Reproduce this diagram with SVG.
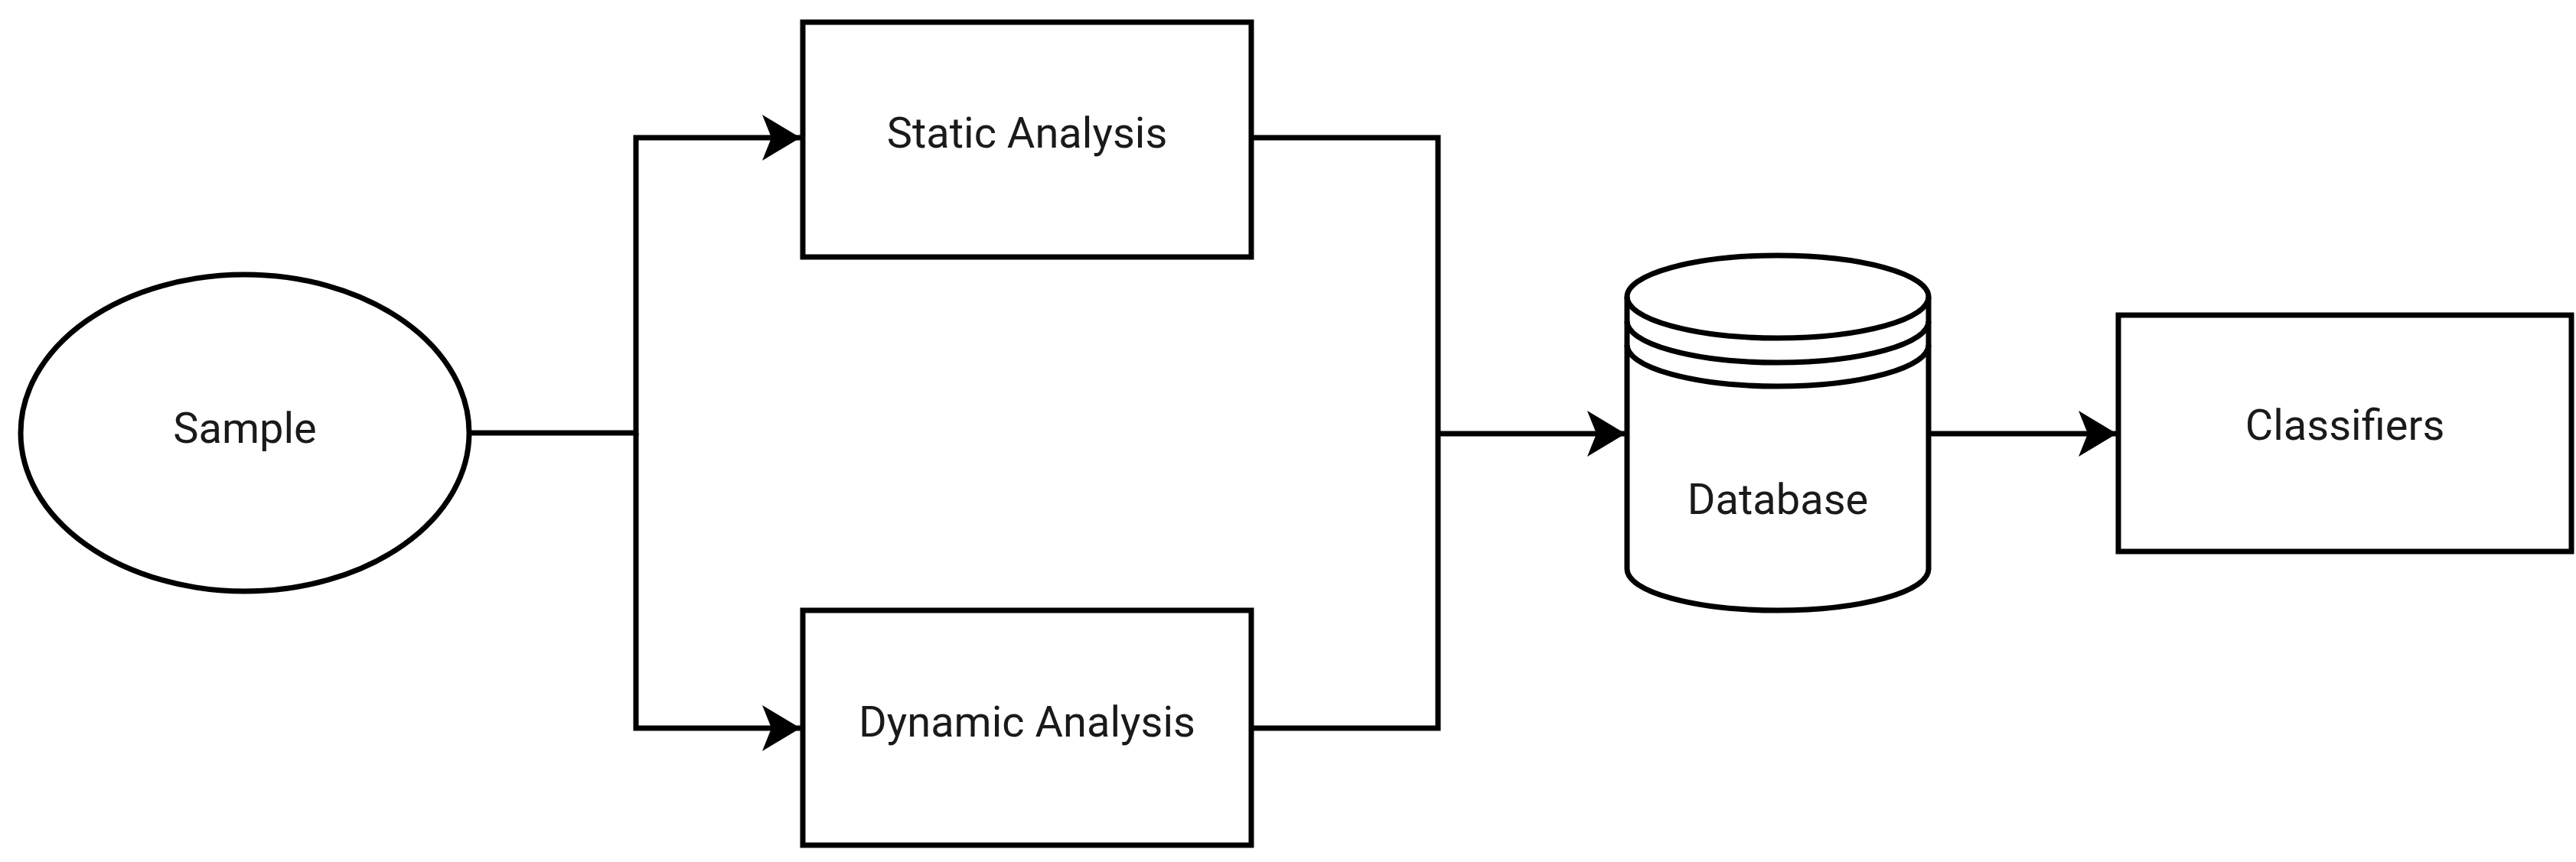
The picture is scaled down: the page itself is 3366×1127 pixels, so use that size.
<svg xmlns="http://www.w3.org/2000/svg" width="3366" height="1127" viewBox="0 0 3366 1127">
<style>
.s{fill:#fff;stroke:#000;stroke-width:7}
.c{fill:none;stroke:#000;stroke-width:7}
.t{font-family:Roboto,"Liberation Sans",sans-serif;font-size:56px;fill:#1a1a1a;text-anchor:middle;dominant-baseline:central}
</style>
<defs>
<marker id="a" markerUnits="userSpaceOnUse" markerWidth="60" markerHeight="70" refX="50" refY="35" orient="auto">
<path d="M0,5 L50,35 L0,65 L12,35 Z" fill="#000"/>
</marker>
</defs>
<rect width="3366" height="1127" fill="#fff"/>
<g id="connectors">
<path class="c" d="M612,566 H831 V180 H1046" marker-end="url(#a)"/>
<path class="c" d="M831,566 V952 H1046" marker-end="url(#a)"/>
<path class="c" d="M1636,180 H1879 V952 H1636"/>
<path class="c" d="M1879,567 H2124" marker-end="url(#a)"/>
<path class="c" d="M2522,567 H2766" marker-end="url(#a)"/>
</g>
<g id="sample"><ellipse class="s" cx="320" cy="566" rx="293" ry="207"/><text class="t" x="320" y="560">Sample</text></g>
<g id="static"><rect class="s" x="1049" y="29" width="586" height="307"/><text class="t" x="1342" y="174">Static Analysis</text></g>
<g id="dynamic"><rect class="s" x="1049" y="798" width="586" height="307"/><text class="t" x="1342" y="944">Dynamic Analysis</text></g>
<g id="database">
<path class="s" d="M2126,388 A197,54 0 0 1 2520,388 V744 A197,54 0 0 1 2126,744 Z"/>
<path class="c" d="M2126,388 A197,54 0 0 0 2520,388 M2126,420 A197,54 0 0 0 2520,420 M2126,451 A197,54 0 0 0 2520,451"/>
<text class="t" x="2323" y="653">Database</text>
</g>
<g id="classifiers"><rect class="s" x="2768" y="412" width="592" height="309"/><text class="t" x="3064" y="556">Classifiers</text></g>
</svg>
